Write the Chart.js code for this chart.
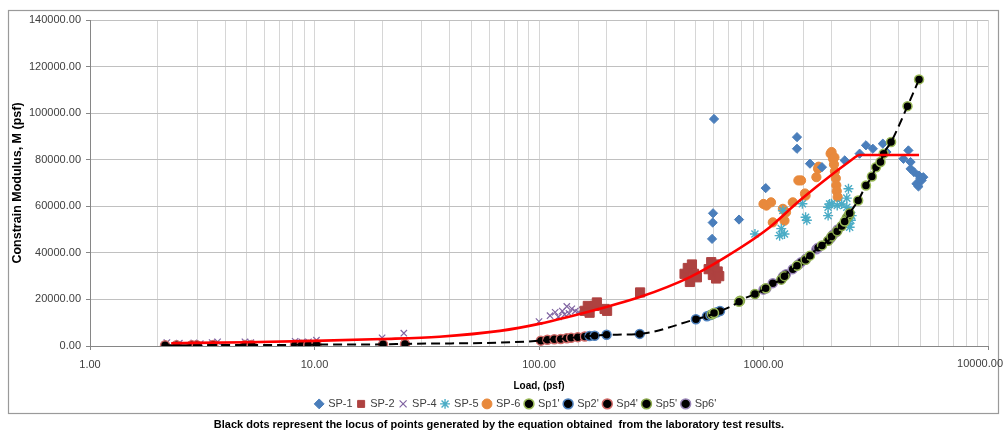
<!DOCTYPE html>
<html>
<head>
<meta charset="utf-8">
<title>Constrain Modulus vs Load</title>
<script src="https://cdn.jsdelivr.net/npm/chart.js@4.4.1/dist/chart.umd.min.js"></script>
<style>
  html, body { margin: 0; padding: 0; background: #ffffff; }
  #wrap { width: 1005px; height: 435px; position: relative; }
</style>
</head>
<body>
<div id="wrap"><canvas id="c" width="1005" height="435"></canvas></div>
<script>
// ---- measured series: load (psf) and constrain modulus M (psf) ----
const sp1Load = [590, 594, 596, 602, 778, 1023, 1410, 1410, 1611, 1822, 2300, 2680, 2860, 3070, 3400, 3530, 4200, 4420, 4520, 4520, 4680, 4800, 4900, 4920, 5000, 5060, 5150];
const sp1M    = [46000, 53000, 57000, 97500, 54300, 67800, 89700, 84700, 78300, 76800, 79700, 82600, 86200, 84700, 86900, 83300, 80400, 84000, 79000, 76100, 74700, 69700, 68500, 73200, 72000, 71100, 72500];

const sp2Load = [160, 165, 168, 177, 181, 196, 201, 282, 445, 460, 470, 480, 490, 505, 570, 585, 595, 605, 615, 625, 635];
const sp2M    = [15100, 17200, 14300, 17200, 18700, 15900, 15100, 23000, 31000, 33500, 27500, 35000, 31000, 29500, 33000, 36000, 30500, 35000, 29000, 32000, 30000];

const sp4Load = [2.2, 2.5, 2.9, 3.1, 3.5, 3.7, 4.9, 5.2, 8.2, 8.8, 9.4, 10.2, 20, 25, 100, 112, 118, 122, 127, 130, 133, 136, 140, 145, 150, 156];
const sp4M    = [1500, 1200, 1300, 1000, 1500, 1800, 1800, 1500, 2000, 1700, 1800, 2500, 3500, 5500, 10500, 13000, 14500, 12500, 15000, 13500, 17000, 14000, 16000, 15000, 14500, 15500];

const sp5Load = [916, 1180, 1200, 1220, 1240, 1490, 1540, 1560, 1940, 1940, 1970, 2010, 2130, 2230, 2350, 2350, 2390, 2390, 2420, 2450, 2470];
const sp5M    = [48100, 47400, 50400, 58200, 48100, 61100, 55300, 54000, 59600, 56000, 61000, 61100, 60300, 61000, 59600, 63500, 67500, 52500, 51000, 54000, 56000];

const sp6Load = [1000, 1030, 1080, 1100, 1220, 1240, 1260, 1350, 1430, 1470, 1530, 1540, 1720, 1750, 1760, 1990, 2010, 2040, 2060, 2070, 2080, 2100, 2110, 2120, 2140];
const sp6M    = [61000, 60300, 61700, 53100, 58900, 53800, 57400, 61700, 71100, 71100, 65500, 64600, 72500, 76100, 77000, 82600, 83300, 80400, 78000, 81000, 75000, 72000, 69000, 66500, 64000];

// ---- points from the laboratory equation ----
const eq1Load = [590, 602, 778, 1023, 1410, 1611, 1822, 2300, 2640, 2860, 3040, 3170, 3320, 3430, 3700, 4380, 4930];
const eq1M    = [13600, 14200, 19000, 24800, 34500, 38800, 43200, 53500, 62500, 68900, 72800, 76800, 79000, 82600, 87600, 103000, 114500];

const eq2Load = [168, 177, 200, 281, 500, 560, 580, 600, 620, 640];
const eq2M    = [4300, 4400, 4800, 5200, 11500, 12800, 13300, 14000, 14500, 15000];

const eq4Load = [2.16, 2.43, 2.84, 2.99, 3.54, 4.9, 5.25, 8.19, 8.77, 9.38, 10.2, 20.2, 25.3, 102, 109, 117, 125, 133, 139, 149, 160];
const eq4M    = [300, 300, 350, 350, 400, 450, 450, 500, 550, 550, 600, 700, 900, 2300, 2700, 2900, 3000, 3300, 3500, 3800, 4100];

const eq5Load = [786, 916, 1200, 1240, 1540, 1940, 2010, 2130, 2230, 2350, 2390, 2420];
const eq5M    = [19400, 22300, 28500, 30000, 37000, 45200, 47000, 49300, 51500, 55000, 56000, 57000];

const eq6Load = [1000, 1030, 1100, 1220, 1260, 1350, 1430, 1470, 1545, 1720, 1750, 1990, 2040, 2100, 2140];
const eq6M    = [24200, 24800, 27000, 29800, 30800, 33000, 35000, 36000, 37500, 41500, 42200, 46300, 47800, 48800, 50000];

// ---- red trend curve, then its flat cap ----
const trendLoad = [2.3, 5, 10, 20, 36, 67, 100, 186, 281, 468, 660, 1035, 1450, 2040, 2640];
const trendM    = [1200, 1600, 2200, 3000, 4000, 6500, 9500, 16000, 21000, 29500, 37500, 50000, 62500, 74000, 82000];
const capLoad   = [2640, 4930];
const capM      = [82000, 82000];

// ---- axis ticks ----
const yTicks = [0, 20000, 40000, 60000, 80000, 100000, 120000, 140000];
const xDecades = [1, 10, 100, 1000, 10000];

const pts = (xs, ys) => xs.map((x, i) => ({ x: x, y: ys[i] }));

const FONT = "'Liberation Sans', Arial, sans-serif";
const TXT = '#404040';
const TICK_FONT = { family: FONT, size: 11 };

function measured(label, xs, ys, style, color, radius, extra) {
  return Object.assign({
    type: 'scatter', label: label, data: pts(xs, ys), order: 3,
    pointStyle: style, pointRadius: radius, pointHoverRadius: radius,
    backgroundColor: color, borderColor: color, pointBorderWidth: 1
  }, extra || {});
}
function eqDots(label, xs, ys, edge) {
  return {
    type: 'scatter', label: label, data: pts(xs, ys), order: 2,
    pointStyle: 'circle', pointRadius: 4.5, pointHoverRadius: 4.5,
    backgroundColor: '#000000', borderColor: edge, pointBorderWidth: 1.5
  };
}

// dashed locus through every equation point, sorted by load
const locus = []
  .concat(pts(eq1Load, eq1M), pts(eq2Load, eq2M), pts(eq4Load, eq4M), pts(eq5Load, eq5M), pts(eq6Load, eq6M))
  .sort((a, b) => a.x - b.x);

const datasets = [
  measured('SP-1', sp1Load, sp1M, 'rectRot', '#4A7EBB', 4.6),
  measured('SP-2', sp2Load, sp2M, 'rect', '#AE4240', 6.5),
  measured('SP-4', sp4Load, sp4M, 'crossRot', '#8064A2', 4.5, { backgroundColor: 'rgba(0,0,0,0)', pointBorderWidth: 1.2 }),
  measured('SP-5', sp5Load, sp5M, 'star', '#4BACC6', 5, { backgroundColor: 'rgba(0,0,0,0)', pointBorderWidth: 1.4 }),
  measured('SP-6', sp6Load, sp6M, 'circle', '#E8893C', 4.6),
  eqDots("Sp1'", eq1Load, eq1M, '#9BBB59'),
  eqDots("Sp2'", eq2Load, eq2M, '#4F81BD'),
  eqDots("Sp4'", eq4Load, eq4M, '#D06A68'),
  eqDots("Sp5'", eq5Load, eq5M, '#8AA84C'),
  eqDots("Sp6'", eq6Load, eq6M, '#9A86B8'),
  {
    type: 'line', label: 'locus', data: locus, order: 1,
    borderColor: '#000000', borderWidth: 2, borderDash: [9, 5],
    pointRadius: 0, pointHoverRadius: 0, cubicInterpolationMode: 'monotone', fill: false
  },
  {
    type: 'line', label: 'trend', data: pts(trendLoad, trendM), order: 0,
    borderColor: '#FF0000', borderWidth: 2.6,
    pointRadius: 0, pointHoverRadius: 0, cubicInterpolationMode: 'monotone', fill: false
  },
  {
    type: 'line', label: 'trend cap', data: pts(capLoad, capM), order: 0,
    borderColor: '#FF0000', borderWidth: 2.6, pointRadius: 0, pointHoverRadius: 0, fill: false
  }
];

const hidden = ['locus', 'trend', 'trend cap'];
const isDecade = v => xDecades.some(d => Math.abs(v - d) < d * 1e-6);
const lastDecade = xDecades[xDecades.length - 1];

// white page, grey frame, legend centring and the last x label kept inside the page
const frame = {
  id: 'frame',
  beforeDraw(chart) {
    const ctx = chart.ctx;
    ctx.save();
    ctx.fillStyle = '#ffffff';
    ctx.fillRect(0, 0, chart.width, chart.height);
    ctx.strokeStyle = '#9a9a9a';
    ctx.lineWidth = 1.2;
    ctx.strokeRect(8.5, 10.5, 990, 403);
    ctx.restore();
  },
  afterLayout(chart) {
    if (chart.legend) chart.legend.left += 34;
  },
  afterDraw(chart) {
    const sx = chart.scales.x;
    const ctx = chart.ctx;
    const text = lastDecade.toFixed(2);
    ctx.save();
    ctx.font = TICK_FONT.size + 'px ' + FONT;
    ctx.fillStyle = TXT;
    ctx.textAlign = 'center';
    ctx.textBaseline = 'top';
    const w = ctx.measureText(text).width;
    const x = Math.min(sx.getPixelForValue(lastDecade), chart.width - 2 - w / 2);
    ctx.fillText(text, x, sx.top + 4 + 8);
    ctx.restore();
  }
};

new Chart(document.getElementById('c'), {
  type: 'scatter',
  data: { datasets: datasets },
  plugins: [frame],
  options: {
    responsive: false,
    animation: false,
    layout: { padding: { left: 10, right: 17, top: 20, bottom: 0 } },
    scales: {
      x: {
        type: 'logarithmic', min: 1, max: 10000,
        afterFit: s => { s.height = 47.4; },
        border: { color: '#868686', width: 1 },
        grid: {
          color: '#d6d6d6', lineWidth: 1, tickLength: 4,
          tickColor: c => (c.tick && isDecade(c.tick.value)) ? '#868686' : 'rgba(0,0,0,0)'
        },
        ticks: {
          autoSkip: false, maxRotation: 0, padding: 8,
          color: TXT, font: TICK_FONT,
          callback: v => (isDecade(v) && Math.abs(v - lastDecade) > 1) ? Number(v).toFixed(2) : ''
        },
        title: {
          display: true, text: 'Load, (psf)', color: '#000000',
          font: { family: FONT, size: 10, weight: 'bold' }, padding: { top: 4, bottom: 1 }
        }
      },
      y: {
        min: 0, max: 140000,
        afterFit: s => { s.width = 80; },
        afterBuildTicks: s => { s.ticks = yTicks.map(v => ({ value: v })); },
        border: { color: '#868686', width: 1 },
        grid: { color: '#c0c0c0', lineWidth: 1, tickLength: 4, tickColor: '#868686' },
        ticks: {
          padding: 5, color: TXT, font: TICK_FONT,
          callback: v => Number(v).toFixed(2)
        },
        title: {
          display: true, text: 'Constrain Modulus, M (psf)', color: '#000000',
          font: { family: FONT, size: 12.5, weight: 'bold' }, padding: { top: 0, bottom: 3 }
        }
      }
    },
    plugins: {
      tooltip: { enabled: false },
      legend: {
        position: 'bottom',
        labels: {
          usePointStyle: true, boxWidth: 7, boxHeight: 7, padding: 5,
          color: TXT, font: { family: FONT, size: 11 },
          filter: item => !hidden.includes(item.text),
          sort: (a, b) => a.datasetIndex - b.datasetIndex
        }
      },
      title: {
        display: true, position: 'bottom',
        text: 'Black dots represent the locus of points generated by the equation obtained  from the laboratory test results.',
        color: '#000000', font: { family: FONT, size: 11, weight: 'bold' },
        padding: { top: -1, bottom: 3.4 }
      }
    }
  }
});
</script>
</body>
</html>
